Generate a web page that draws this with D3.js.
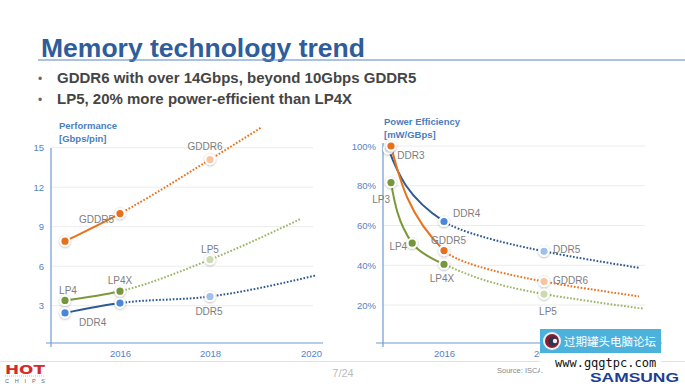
<!DOCTYPE html>
<html>
<head>
    <title>Memory technology trend</title>
    <script src="https://cdnjs.cloudflare.com/ajax/libs/d3/7.8.5/d3.min.js"></script>
    <style>
        body { margin: 0; background: #fff; }
        svg { display: block; font-family: "Liberation Sans", Arial, sans-serif; }
        .grid line { stroke: #ececec; stroke-width: 1; }
        .axis-line { stroke: #6f9bd6; stroke-width: 1.2; }
        .tick-label { font-size: 9.5px; fill: #5483c4; }
        .axis-title { font-size: 9.5px; font-weight: bold; fill: #4a7dbf; }
        .pt-label { font-size: 10px; fill: #7d7d7d; }
        .dotted { stroke-dasharray: 1.7,1.7; }
    </style>
</head>
<body>
    <div id="chart"></div>
    <script>
        // ---- data ----
        const titleText = 'Memory technology trend';
        const bullets = [
            'GDDR6 with over 14Gbps, beyond 10Gbps GDDR5',
            'LP5, 20% more power-efficient than LP4X'
        ];

        // Performance [Gbps/pin]  ([year, value])
        const perfTicks = [3, 6, 9, 12, 15];
        const perfYears = [2016, 2018, 2020];
        const gddrPerf = [[2015, 7.9], [2016, 10.0], [2018, 14.1], [2019, 16.5]];
        const lpPerf = [[2015, 3.4], [2016, 4.1], [2018, 6.5], [2019.8, 9.6]];
        const ddrPerf = [[2015, 2.45], [2016, 3.2], [2018, 3.7], [2020.1, 5.3]];
        // markers: [colour key, series, index, label]
        const perfMarks = [
            ['GDDR5', 'gddr', 0, ''], ['GDDR5', 'gddr', 1, 'GDDR5'], ['GDDR6', 'gddr', 2, 'GDDR6'],
            ['LP4', 'lp', 0, 'LP4'], ['LP4X', 'lp', 1, 'LP4X'], ['LP5', 'lp', 2, 'LP5'],
            ['DDR4', 'ddr', 0, 'DDR4'], ['DDR4', 'ddr', 1, ''], ['DDR5', 'ddr', 2, 'DDR5']
        ];

        // Power efficiency [mW/GBps] in %
        const powerTicks = [20, 40, 60, 80, 100];
        const powerYears = [2016, 2018];
        const ddrPower = [[2014.95, 98.5], [2016, 62], [2018, 47], [2019.9, 38.7]];
        const gddrPower = [[2015, 100], [2016, 47.4], [2018, 31.8], [2019.9, 24.3]];
        const lpPower = [[2015, 81.6], [2015.4, 51.1], [2016, 40.5], [2018, 25.5], [2020, 18.1]];
        const powerMarks = [
            ['DDR3', 'ddr', 0, 'DDR3'], ['DDR4', 'ddr', 1, 'DDR4'], ['DDR5', 'ddr', 2, 'DDR5'],
            ['GDDR', 'gddr', 0, ''], ['GDDR5', 'gddr', 1, 'GDDR5'], ['GDDR6', 'gddr', 2, 'GDDR6'],
            ['LP3', 'lp', 0, 'LP3'], ['LP4', 'lp', 1, 'LP4'], ['LP4X', 'lp', 2, 'LP4X'], ['LP5', 'lp', 3, 'LP5']
        ];

        // ---- styling ----
        const lineColor = { gddr: '#e8731f', lp: '#7a9a3a', ddr: '#2d5a94' };
        const dotColor = { gddr: '#e8731f', lp: '#9db565', ddr: '#2d5a94' };
        const pointColor = {
            GDDR5: '#e8701a', GDDR6: '#f8c4a0', GDDR: '#e8701a',
            LP3: '#76963a', LP4: '#76963a', LP4X: '#76963a', LP5: '#cddbb0',
            DDR3: '#e4e9f0', DDR4: '#4a88d6', DDR5: '#9fc0ea'
        };
        // label offsets from the marker: [dx, dy, anchor]
        const perfLabelPos = {
            GDDR5: [-6, 6, 'end'], GDDR6: [-5, -13, 'middle'], LP4: [3, -10, 'middle'],
            LP4X: [0, -10.5, 'middle'], LP5: [0, -10, 'middle'], DDR4: [14, 10, 'start'],
            DDR5: [-1, 15, 'middle']
        };
        const powerLabelPos = {
            DDR3: [9, 7, 'start'], DDR4: [9, -8, 'start'], DDR5: [9, -2, 'start'],
            GDDR5: [4.5, -10, 'middle'], GDDR6: [9, -1, 'start'],
            LP3: [-1, 17, 'end'], LP4: [-5, 3, 'end'], LP4X: [-2, 14, 'middle'], LP5: [4, 17, 'middle']
        };

        const W = 685, H = 384;
        const svg = d3.select('#chart').append('svg')
            .attr('width', W).attr('height', H);

        const defs = svg.append('defs');
        const shadow = defs.append('filter').attr('id', 'shadow')
            .attr('x', '-50%').attr('y', '-50%').attr('width', '200%').attr('height', '200%');
        shadow.append('feDropShadow').attr('dx', 0).attr('dy', 0.6)
            .attr('stdDeviation', 1).attr('flood-color', '#000').attr('flood-opacity', 0.35);

        // ---- title and bullets ----
        svg.append('text')
            .attr('x', 41).attr('y', 56.5)
            .style('font-size', '26.5px').style('font-weight', 'bold')
            .attr('fill', '#2f5d9b')
            .text(titleText);
        svg.append('line')
            .attr('x1', 38).attr('x2', W).attr('y1', 60).attr('y2', 60)
            .attr('stroke', '#5a86c4').attr('stroke-width', 1.2);

        bullets.forEach((b, i) => {
            const y = 82.5 + i * 21.5;
            svg.append('text').attr('x', 38).attr('y', y)
                .style('font-size', '12px').attr('fill', '#666').text('•');
            svg.append('text').attr('x', 57).attr('y', y)
                .style('font-size', '15px').style('font-weight', 'bold')
                .attr('fill', '#454545').text(b);
        });

        // ---- generic panel ----
        function drawPanel(cfg) {
            const g = svg.append('g');
            const { x, y } = cfg;

            // grid
            g.append('g').attr('class', 'grid')
                .selectAll('line').data(cfg.ticks).enter().append('line')
                .attr('x1', cfg.axisX).attr('x2', cfg.gridEnd)
                .attr('y1', d => y(d)).attr('y2', d => y(d));

            // axes lines
            g.append('line').attr('class', 'axis-line')
                .attr('x1', cfg.axisX).attr('x2', cfg.axisX)
                .attr('y1', cfg.axisTop).attr('y2', cfg.baseY + 4);
            g.append('line').attr('class', 'axis-line')
                .attr('x1', cfg.baseStart).attr('x2', cfg.baseEnd)
                .attr('y1', cfg.baseY).attr('y2', cfg.baseY);

            // y tick labels
            const yAxis = g.append('g')
                .attr('transform', `translate(${cfg.axisX - 4},0)`)
                .call(d3.axisLeft(y).tickValues(cfg.ticks).tickSize(0).tickFormat(cfg.tickFormat));
            yAxis.select('.domain').remove();
            yAxis.selectAll('text').attr('class', 'tick-label')
                .attr('fill', null).style('font-family', null).style('font-size', null);

            // x tick labels
            const xAxis = g.append('g')
                .attr('transform', `translate(0,${cfg.baseY + 4})`)
                .call(d3.axisBottom(x).tickValues(cfg.years).tickSize(0).tickFormat(d3.format('d')));
            xAxis.select('.domain').remove();
            xAxis.selectAll('text').attr('class', 'tick-label')
                .attr('fill', null).style('font-family', null).style('font-size', null);

            // axis titles
            cfg.title.forEach((t, i) => {
                g.append('text').attr('class', 'axis-title')
                    .attr('x', cfg.titleX).attr('y', cfg.titleY + i * 12.5).text(t);
            });

            // clip: solid up to 2016, dotted after
            const split = x(2016);
            const cs = 'clip-solid-' + cfg.id, cd = 'clip-dot-' + cfg.id;
            defs.append('clipPath').attr('id', cs).append('rect')
                .attr('x', 0).attr('y', 0).attr('width', split).attr('height', H);
            defs.append('clipPath').attr('id', cd).append('rect')
                .attr('x', split).attr('y', 0).attr('width', W - split).attr('height', H);

            const line = d3.line().x(d => x(d[0])).y(d => y(d[1])).curve(cfg.curve);

            cfg.order.forEach(key => {
                const data = cfg.series[key];
                g.append('path').attr('d', line(data))
                    .attr('fill', 'none').attr('stroke', dotColor[key])
                    .attr('stroke-width', 2).attr('class', 'dotted')
                    .attr('clip-path', `url(#${cd})`);
                g.append('path').attr('d', line(data))
                    .attr('fill', 'none').attr('stroke', lineColor[key])
                    .attr('stroke-width', 2)
                    .attr('clip-path', `url(#${cs})`);
            });

            // markers
            const marks = cfg.marks.map(m => {
                const d = cfg.series[m[1]][m[2]];
                return { name: m[0], label: m[3], px: x(d[0]), py: y(d[1]) };
            });
            g.selectAll('.pt').data(marks).enter().append('circle')
                .attr('cx', d => d.px).attr('cy', d => d.py).attr('r', 4.6)
                .attr('fill', d => pointColor[d.name])
                .attr('stroke', '#fff').attr('stroke-width', 2)
                .attr('filter', 'url(#shadow)');

            g.selectAll('.pt-label').data(marks.filter(d => d.label)).enter().append('text')
                .attr('class', 'pt-label')
                .attr('x', d => d.px + cfg.labelPos[d.label][0])
                .attr('y', d => d.py + cfg.labelPos[d.label][1])
                .attr('text-anchor', d => cfg.labelPos[d.label][2])
                .attr('dominant-baseline', 'central')
                .text(d => d.label);
        }

        drawPanel({
            id: 'perf',
            x: d3.scaleLinear().domain([2015, 2016, 2018, 2020]).range([65, 120, 210, 311]),
            y: d3.scaleLinear().domain([0, 15]).range([345.2, 147.7]),
            ticks: perfTicks, years: perfYears, tickFormat: d3.format('d'),
            axisX: 51, axisTop: 148, gridEnd: 313,
            baseY: 343, baseStart: 46, baseEnd: 323,
            title: ['Performance', '[Gbps/pin]'], titleX: 59, titleY: 129,
            series: { gddr: gddrPerf, lp: lpPerf, ddr: ddrPerf },
            order: ['ddr', 'lp', 'gddr'],
            marks: perfMarks, labelPos: perfLabelPos,
            curve: d3.curveMonotoneX
        });

        drawPanel({
            id: 'power',
            x: d3.scaleLinear().domain([2015, 2016, 2020]).range([391, 444, 644]),
            y: d3.scaleLinear().domain([0, 100]).range([344.75, 146]),
            ticks: powerTicks, years: powerYears, tickFormat: d => d + '%',
            axisX: 383, axisTop: 143, gridEnd: 645,
            baseY: 343, baseStart: 376, baseEnd: 662,
            title: ['Power Efficiency', '[mW/GBps]'], titleX: 384, titleY: 125,
            series: { gddr: gddrPower, lp: lpPower, ddr: ddrPower },
            order: ['lp', 'ddr', 'gddr'],
            marks: powerMarks, labelPos: powerLabelPos,
            curve: d3.curveMonotoneY
        });

        // ---- footer ----
        svg.append('line').attr('x1', 0).attr('x2', W).attr('y1', 361.5).attr('y2', 361.5)
            .attr('stroke', '#e2e2e2').attr('stroke-width', 1);
        svg.append('text').attr('x', 343).attr('y', 376.5).attr('text-anchor', 'middle')
            .style('font-size', '11px').attr('fill', '#bbb').text('7/24');
        svg.append('text').attr('x', 5).attr('y', 373.5)
            .style('font-family', '"DejaVu Sans"').style('font-size', '13px').style('font-weight', 'bold')
            .attr('textLength', 40).attr('lengthAdjust', 'spacingAndGlyphs')
            .attr('fill', '#d42a2a').text('HOT');
        svg.append('line').attr('x1', 5).attr('x2', 45).attr('y1', 376).attr('y2', 376)
            .attr('stroke', '#999').attr('stroke-width', 0.6).attr('stroke-dasharray', '1,1');
        svg.append('text').attr('x', 5).attr('y', 383)
            .style('font-size', '5.5px').attr('fill', '#666')
            .attr('textLength', 40).text('C H I P S');
        svg.append('text').attr('x', 497).attr('y', 373)
            .style('font-size', '7.5px').attr('fill', '#888').text('Source: ISCA');
        svg.append('text').attr('x', 590).attr('y', 381.5)
            .style('font-size', '12.5px').style('font-weight', 'bold')
            .attr('textLength', 89).attr('lengthAdjust', 'spacingAndGlyphs')
            .attr('fill', '#1d3f92').text('SAMSUNG');

        // watermark overlay
        svg.append('rect').attr('x', 540).attr('y', 329).attr('width', 121).attr('height', 24)
            .attr('fill', '#4cb2dc');
        svg.append('rect').attr('x', 540).attr('y', 353).attr('width', 121).attr('height', 19)
            .attr('fill', '#fff');
        svg.append('circle').attr('cx', 552).attr('cy', 341).attr('r', 9).attr('fill', '#eef0f4');
        svg.append('circle').attr('cx', 552).attr('cy', 341).attr('r', 7).attr('fill', '#8c1d30');
        svg.append('circle').attr('cx', 553).attr('cy', 341).attr('r', 4.5).attr('fill', '#273452');
        svg.append('circle').attr('cx', 555).attr('cy', 341).attr('r', 2.2).attr('fill', '#eef0f4');
        svg.append('text').attr('x', 564).attr('y', 345.5)
            .style('font-family', '"Noto Sans CJK SC"').style('font-size', '11.5px')
            .attr('fill', '#fff').text('过期罐头电脑论坛');
        svg.append('text').attr('x', 555).attr('y', 366.5)
            .style('font-family', '"DejaVu Sans Mono"').style('font-size', '12px')
            .attr('fill', '#111').text('www.gqgtpc.com');
    </script>
</body>
</html>
